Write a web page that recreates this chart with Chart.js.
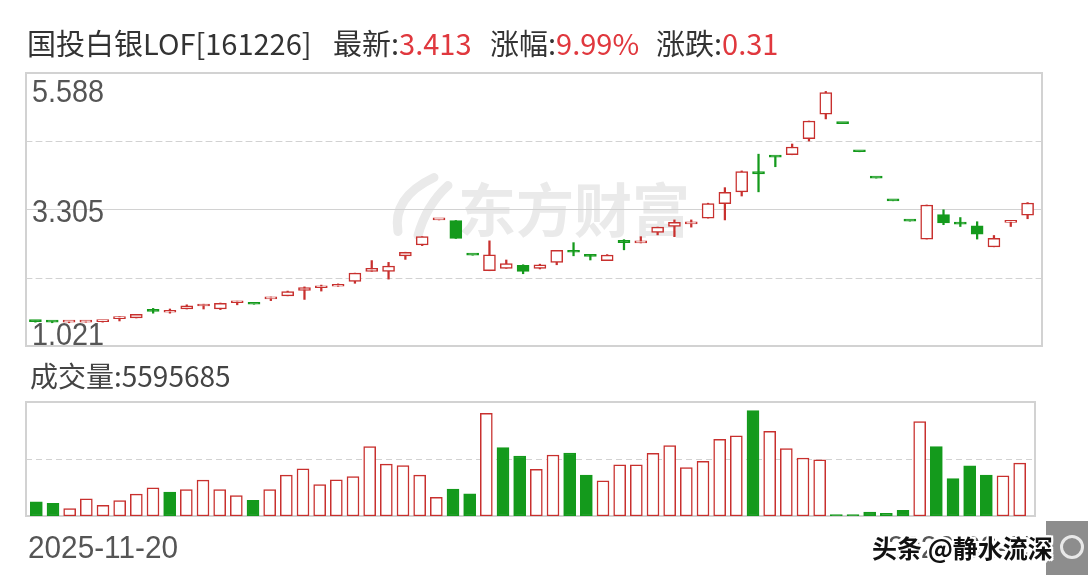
<!DOCTYPE html>
<html lang="zh">
<head>
<meta charset="UTF-8" />
<title>国投白银LOF 日K</title>
<script src="https://cdn.jsdelivr.net/npm/chart.js"></script>
<style>
  body {
    margin: 0;
    width: 1088px;
    height: 580px;
    background: #fff;
    position: relative;
    overflow: hidden;
    font-family: 'Noto Sans CJK SC', 'Noto Sans', sans-serif;
    color: #333;
  }
  canvas { position: absolute; left: 0; }
  #kline { top: 0; }
  #vol { top: 360px; }
  .head { position: absolute; top: 25px; font-size: 29px; line-height: 35px; white-space: nowrap; color: #333; }
  .red { color: #e0383e; }
  #wm {
    position: absolute; left: 872px; top: 529px;
    font-size: 25px; font-weight: bold; color: #111; white-space: nowrap;
    text-shadow: 2px 0 #fff, -2px 0 #fff, 0 2px #fff, 0 -2px #fff,
                 2px 2px #fff, -2px -2px #fff, 2px -2px #fff, -2px 2px #fff;
  }
  #wmbox { position: absolute; left: 1046px; top: 521px; width: 42px; height: 54px; background: #8d8d8d; }
  #wmbox span {
    position: absolute; left: 14px; top: 14px; width: 18px; height: 18px;
    border: 3px solid #e8e8e8; border-radius: 50%;
  }
</style>
</head>
<body>
  <canvas id="kline" width="1088" height="360"></canvas>
  <canvas id="vol" width="1088" height="220"></canvas>

  <div class="head" style="left:27px">国投白银LOF[161226]</div>
  <div class="head" style="left:333px">最新:<span class="red" id="latest"></span></div>
  <div class="head" style="left:490px">涨幅:<span class="red" id="pct"></span></div>
  <div class="head" style="left:656px">涨跌:<span class="red" id="chg"></span></div>

  <div id="wmbox"><span></span></div>
  <div id="wm">头条 @静水流深</div>

  <script>
    // trading days
    const dates = [
      '2025-11-20', '2025-11-21', '2025-11-24', '2025-11-25', '2025-11-26', '2025-11-27', '2025-11-28',
      '2025-12-01', '2025-12-02', '2025-12-03', '2025-12-04', '2025-12-05',
      '2025-12-08', '2025-12-09', '2025-12-10', '2025-12-11', '2025-12-12',
      '2025-12-15', '2025-12-16', '2025-12-17', '2025-12-18', '2025-12-19',
      '2025-12-22', '2025-12-23', '2025-12-24', '2025-12-25', '2025-12-26',
      '2025-12-29', '2025-12-30', '2025-12-31',
      '2026-01-05', '2026-01-06', '2026-01-07', '2026-01-08', '2026-01-09',
      '2026-01-12', '2026-01-13', '2026-01-14', '2026-01-15', '2026-01-16',
      '2026-01-19', '2026-01-20', '2026-01-21', '2026-01-22', '2026-01-23',
      '2026-01-26', '2026-01-27', '2026-01-28', '2026-01-29', '2026-01-30',
      '2026-02-02', '2026-02-03', '2026-02-04', '2026-02-05', '2026-02-06',
      '2026-02-09', '2026-02-10', '2026-02-11', '2026-02-24', '2026-02-25'
    ];

    const opens = [
      1.44, 1.43, 1.42, 1.42, 1.43, 1.48, 1.49, 1.62, 1.585, 1.64,
      1.69, 1.64, 1.745, 1.72, 1.81, 1.86, 1.95, 1.995, 2.02, 2.10,
      2.27, 2.27, 2.53, 2.71, 3.13, 3.12, 2.54, 2.28, 2.32, 2.37,
      2.32, 2.42, 2.61, 2.54, 2.45, 2.79, 2.745, 2.92, 3.02, 3.065,
      3.16, 3.40, 3.60, 3.94, 4.19, 4.22, 4.49, 4.90, 4.74, 4.27,
      3.83, 3.45, 3.11, 2.81, 3.22, 3.07, 3.03, 2.68, 3.09, 3.21
    ];
    const highs = [
      1.44, 1.43, 1.43, 1.44, 1.44, 1.51, 1.55, 1.65, 1.64, 1.71,
      1.72, 1.74, 1.77, 1.72, 1.84, 1.94, 2.01, 2.04, 2.06, 2.24,
      2.45, 2.42, 2.59, 2.85, 3.13, 3.12, 2.54, 2.78, 2.46, 2.38,
      2.39, 2.62, 2.75, 2.54, 2.55, 2.80, 2.85, 3.01, 3.13, 3.13,
      3.41, 3.67, 3.95, 4.23, 4.19, 4.40, 4.785, 5.28, 4.74, 4.27,
      3.83, 3.45, 3.11, 3.38, 3.30, 3.17, 3.10, 2.87, 3.11, 3.42
    ];
    const lows = [
      1.42, 1.41, 1.41, 1.42, 1.42, 1.44, 1.49, 1.57, 1.57, 1.64,
      1.64, 1.63, 1.71, 1.72, 1.78, 1.86, 1.80, 1.94, 2.02, 2.07,
      2.27, 2.14, 2.47, 2.70, 3.13, 2.82, 2.54, 2.28, 2.32, 2.23,
      2.31, 2.38, 2.53, 2.46, 2.45, 2.63, 2.745, 2.88, 2.85, 3.01,
      3.16, 3.13, 3.53, 3.60, 4.02, 4.22, 4.45, 4.82, 4.74, 4.27,
      3.83, 3.45, 3.11, 2.81, 3.05, 3.02, 2.81, 2.68, 3.02, 3.15
    ];
    const closes = [
      1.43, 1.42, 1.425, 1.43, 1.435, 1.49, 1.55, 1.60, 1.595, 1.695,
      1.70, 1.735, 1.755, 1.72, 1.82, 1.93, 2.00, 2.01, 2.03, 2.24,
      2.32, 2.36, 2.59, 2.85, 3.13, 2.82, 2.54, 2.545, 2.40, 2.27,
      2.38, 2.62, 2.59, 2.52, 2.54, 2.75, 2.755, 3.01, 3.09, 3.095,
      3.405, 3.59, 3.94, 3.90, 4.18, 4.35, 4.785, 5.26, 4.74, 4.27,
      3.83, 3.45, 3.11, 3.38, 3.08, 3.06, 2.89, 2.821, 3.103, 3.413
    ];
    const prevClose = 1.45; // close of the day before the first bar

    const volumes = [
      1487000, 1349000, 775000, 1805000, 1136000, 1625000, 2305000, 2974000, 2517000, 2793000,
      3791000, 2793000, 2156000, 1667000, 2793000, 4322000, 4991000, 3324000, 3823000, 4174000,
      7328000, 5491000, 5342000, 4322000, 1986000, 2836000, 2336000, 10864000, 7222000, 6340000,
      4938000, 6446000, 6659000, 4322000, 3717000, 5416000, 5416000, 6616000, 7434000, 5129000,
      5767000, 8103000, 8464000, 11151000, 8953000, 7115000, 6128000, 5947000, 138000, 138000,
      425000, 287000, 605000, 9983000, 7328000, 3961000, 5310000, 4322000, 4248000, 5595685
    ];

    const priceTicks = [1.021, 2.163, 3.305, 4.446, 5.588];
    const volumeMax = 12050000;

    const RED = '#c8302e';
    const GREEN = '#149a1c';
    const GRID = '#d2d2d2';
    const LABEL = '#555';

    const candleUp = closes.map((c, i) =>
      c > opens[i] || (c === opens[i] && c >= (i ? closes[i - 1] : prevClose)));
    const volUp = closes.map((c, i) => c >= (i ? closes[i - 1] : prevClose));

    // header numbers
    const last = closes[closes.length - 1];
    const prev = closes[closes.length - 2];
    document.getElementById('latest').textContent = last.toFixed(3);
    document.getElementById('pct').textContent = ((last - prev) / prev * 100).toFixed(2) + '%';
    document.getElementById('chg').textContent = (last - prev).toFixed(2);

    function narrowText(ctx, text, x, y, sx) {
      ctx.save();
      ctx.translate(x, y);
      ctx.scale(sx, 1);
      ctx.fillText(text, 0, 0);
      ctx.restore();
    }

    const priceFrame = {
      id: 'priceFrame',
      beforeDatasetsDraw(chart) {
        const { ctx, chartArea: a, scales: { y } } = chart;
        const left = a.left - 1, right = a.right + 6;
        const cx = (left + right) / 2, cy = (a.top + a.bottom) / 2;
        ctx.save();
        // 东方财富 watermark
        ctx.fillStyle = '#eaeaea';
        ctx.strokeStyle = '#eaeaea';
        ctx.font = 'bold 58px "Noto Sans CJK SC"';
        ctx.textBaseline = 'middle';
        ctx.fillText('东方财富', cx - 76, cy);
        ctx.lineWidth = 9;
        ctx.lineCap = 'round';
        ctx.beginPath();
        ctx.moveTo(cx - 136, cy + 22);
        ctx.quadraticCurveTo(cx - 142, cy - 12, cx - 100, cy - 32);
        ctx.stroke();
        ctx.beginPath();
        ctx.moveTo(cx - 116, cy + 26);
        ctx.quadraticCurveTo(cx - 108, cy - 4, cx - 86, cy - 24);
        ctx.stroke();
        // grid lines
        ctx.lineWidth = 1;
        priceTicks.forEach((v, i) => {
          if (i === 0 || i === priceTicks.length - 1) return;
          const py = Math.round(y.getPixelForValue(v)) + 0.5;
          ctx.strokeStyle = GRID;
          ctx.setLineDash(i === 2 ? [] : [6, 4]);
          ctx.beginPath();
          ctx.moveTo(left, py);
          ctx.lineTo(right, py);
          ctx.stroke();
        });
        ctx.setLineDash([]);
        ctx.lineWidth = 2;
        ctx.strokeRect(left, a.top, right - left, a.bottom - a.top);
        ctx.restore();
      },
      afterDatasetsDraw(chart) {
        const { ctx, chartArea: a, scales: { y } } = chart;
        ctx.save();
        ctx.fillStyle = LABEL;
        ctx.font = '32px "Liberation Sans", Arial, sans-serif';
        ctx.textBaseline = 'alphabetic';
        const n = priceTicks.length;
        narrowText(ctx, priceTicks[n - 1].toFixed(3), a.left + 5, y.getPixelForValue(priceTicks[n - 1]) + 29, 0.9);
        narrowText(ctx, priceTicks[2].toFixed(3), a.left + 5, y.getPixelForValue(priceTicks[2]) + 13, 0.9);
        narrowText(ctx, priceTicks[0].toFixed(3), a.left + 5, y.getPixelForValue(priceTicks[0]) - 1, 0.9);
        ctx.restore();
      }
    };

    new Chart(document.getElementById('kline'), {
      type: 'bar',
      data: {
        labels: dates,
        datasets: [
          {
            label: 'body',
            data: opens.map((o, i) => [o, closes[i]]),
            backgroundColor: candleUp.map(u => u ? '#fff' : GREEN),
            borderColor: candleUp.map(u => u ? RED : GREEN),
            borderWidth: 1.5,
            borderSkipped: false,
            barThickness: 12,
            minBarLength: 2,
            grouped: false,
            order: 0
          },
          {
            label: 'wick',
            data: lows.map((l, i) => [l, highs[i]]),
            backgroundColor: candleUp.map(u => u ? RED : GREEN),
            borderWidth: 0,
            barThickness: 1.6,
            grouped: false,
            order: 1
          }
        ]
      },
      options: {
        responsive: false,
        animation: false,
        events: [],
        layout: { padding: { left: 27, right: 52, top: 73, bottom: 14 } },
        plugins: { legend: { display: false }, tooltip: { enabled: false } },
        scales: {
          x: { display: false },
          y: { display: false, min: priceTicks[0], max: priceTicks[priceTicks.length - 1] }
        }
      },
      plugins: [priceFrame]
    });

    const volFrame = {
      id: 'volFrame',
      beforeDatasetsDraw(chart) {
        const { ctx, chartArea: a } = chart;
        const left = a.left - 2, right = a.right + 7;
        ctx.save();
        const py = Math.round((a.top + a.bottom) / 2) + 0.5;
        ctx.strokeStyle = GRID;
        ctx.lineWidth = 1;
        ctx.setLineDash([6, 4]);
        ctx.beginPath();
        ctx.moveTo(left, py);
        ctx.lineTo(right, py);
        ctx.stroke();
        ctx.setLineDash([]);
        ctx.lineWidth = 2;
        ctx.strokeRect(left, a.top, right - left, a.bottom - a.top);
        ctx.restore();
      },
      afterDraw(chart) {
        const { ctx, chartArea: a } = chart;
        ctx.save();
        ctx.fillStyle = '#444';
        ctx.font = '28px "Noto Sans CJK SC"';
        ctx.textBaseline = 'alphabetic';
        ctx.fillText('成交量:' + volumes[volumes.length - 1], a.left + 2, a.top - 15);
        ctx.fillStyle = LABEL;
        ctx.font = '32px "Liberation Sans", Arial, sans-serif';
        narrowText(ctx, dates[0], a.left, a.bottom + 42, 0.93);
        ctx.textAlign = 'right';
        narrowText(ctx, dates[dates.length - 1], a.right + 12, a.bottom + 42, 0.93);
        ctx.restore();
      }
    };

    new Chart(document.getElementById('vol'), {
      type: 'bar',
      data: {
        labels: dates,
        datasets: [{
          label: '成交量',
          data: volumes,
          backgroundColor: volUp.map(u => u ? '#fff' : GREEN),
          borderColor: volUp.map(u => u ? RED : GREEN),
          borderWidth: 1.5,
          borderSkipped: false,
          barThickness: 12
        }]
      },
      options: {
        responsive: false,
        animation: false,
        events: [],
        layout: { padding: { left: 28, right: 60, top: 42, bottom: 64 } },
        plugins: { legend: { display: false }, tooltip: { enabled: false } },
        scales: {
          x: { display: false },
          y: { display: false, min: 0, max: volumeMax }
        }
      },
      plugins: [volFrame]
    });
  </script>
</body>
</html>
